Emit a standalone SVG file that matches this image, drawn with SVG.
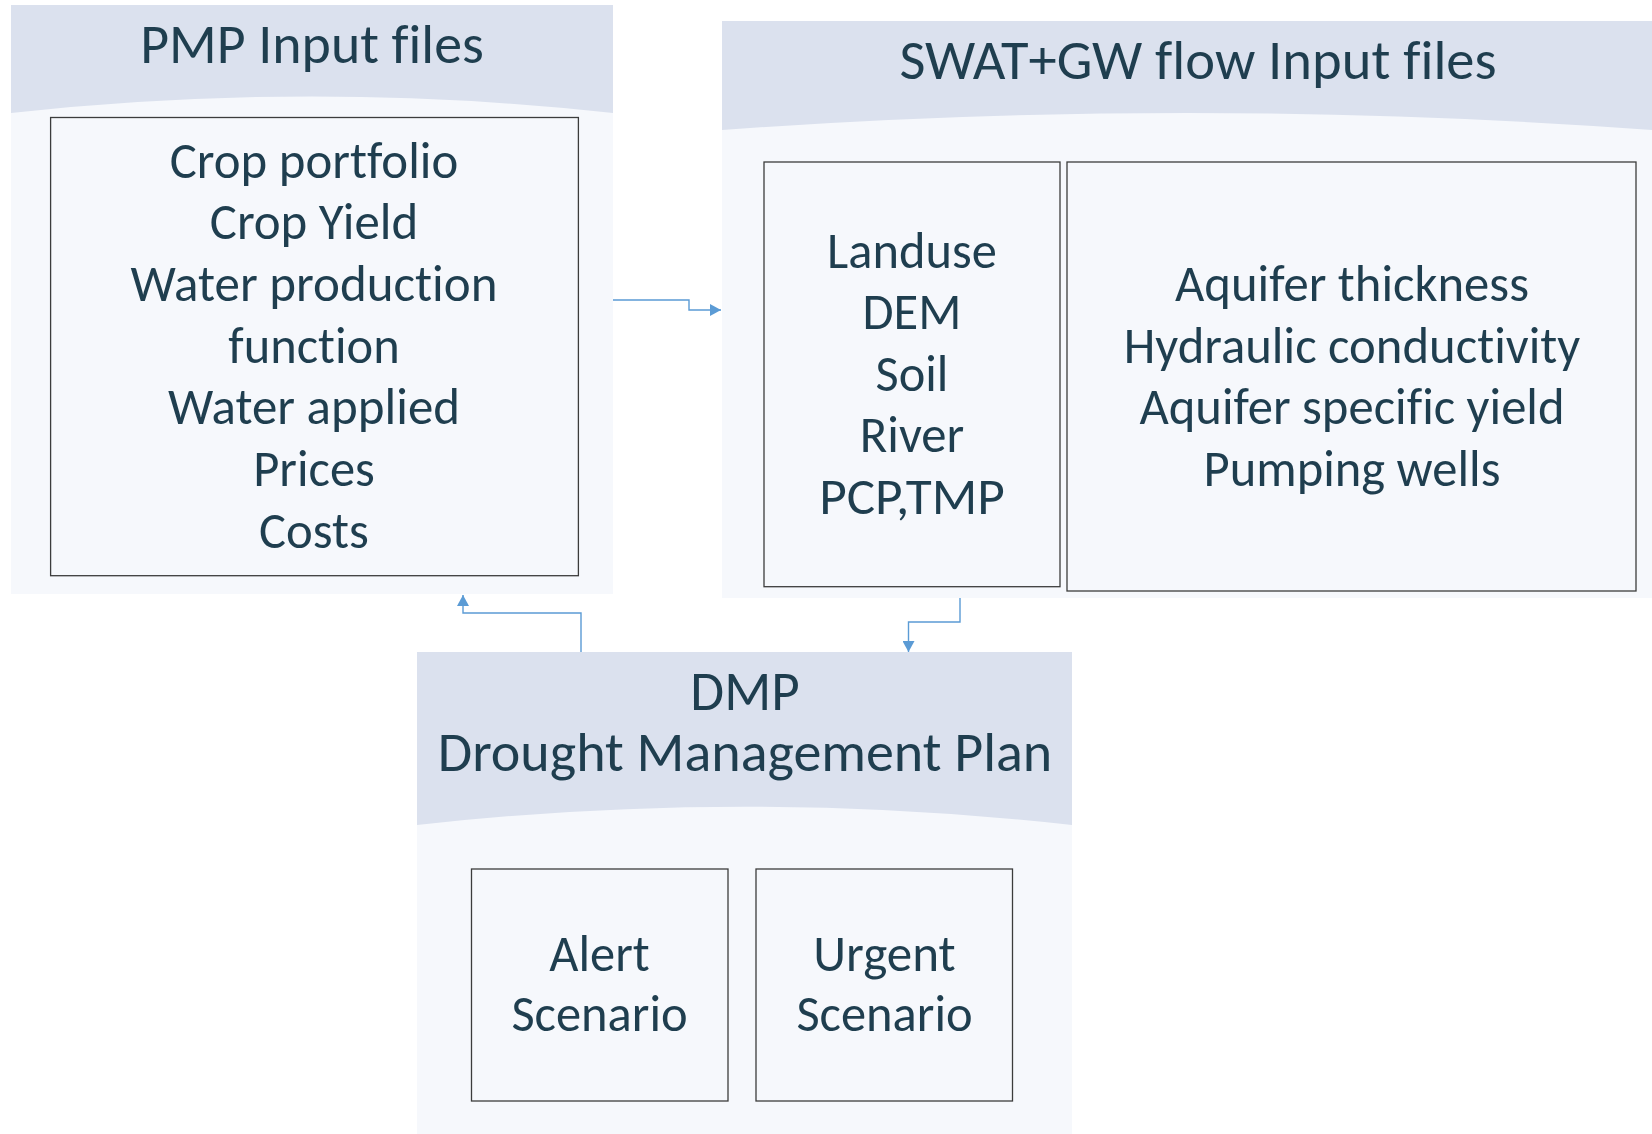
<svg xmlns="http://www.w3.org/2000/svg" width="1652" height="1134" viewBox="0 0 1652 1134">
  <style>
    .panel { fill: #F6F8FC; }
    .band { fill: #DBE1EE; }
    .box { fill: none; stroke: #3C3C3C; stroke-width: 1.3; }
    text { font-family: Carlito, Lato, "Open Sans", sans-serif; fill: #1F3E4F; text-anchor: middle; font-variant-ligatures: none; font-feature-settings: "liga" 0, "clig" 0; }
    .title { font-size: 55.8px; }
    .item { font-size: 50.5px; }
    .link { fill: none; stroke: #5B9BD5; stroke-width: 1.4; }
  </style>
  <defs>
    <marker id="arrow" markerUnits="userSpaceOnUse" markerWidth="12" markerHeight="12" refX="11" refY="6" orient="auto">
      <path d="M0,0 L11,6 L0,12 Z" fill="#5B9BD5"/>
    </marker>
  </defs>

  <rect width="1652" height="1134" fill="#FFFFFF"/>

  <!-- PMP input files -->
  <g id="pmp-inputs">
    <rect class="panel" x="11" y="5" width="602" height="589"/>
    <path class="band" d="M11,5 H613 V113 Q312,80 11,113 Z"/>
    <text class="title" x="312" y="62.5" textLength="343.4" lengthAdjust="spacingAndGlyphs">PMP Input files</text>
    <rect class="box" x="50.6" y="117.5" width="527.8" height="458.2"/>
    <text class="item" x="314" y="177.5" textLength="288.5" lengthAdjust="spacingAndGlyphs">Crop portfolio</text>
    <text class="item" x="314" y="239.2" textLength="208.5" lengthAdjust="spacingAndGlyphs">Crop Yield</text>
    <text class="item" x="314" y="300.9" textLength="367" lengthAdjust="spacingAndGlyphs">Water production</text>
    <text class="item" x="314" y="362.6" textLength="171.4" lengthAdjust="spacingAndGlyphs">function</text>
    <text class="item" x="314" y="424.3" textLength="292.2" lengthAdjust="spacingAndGlyphs">Water applied</text>
    <text class="item" x="314" y="486" textLength="121.6" lengthAdjust="spacingAndGlyphs">Prices</text>
    <text class="item" x="314" y="547.7" textLength="109.9" lengthAdjust="spacingAndGlyphs">Costs</text>
  </g>

  <!-- SWAT + groundwater flow input files -->
  <g id="swat-inputs">
    <rect class="panel" x="722" y="21" width="930" height="577"/>
    <path class="band" d="M722,21 H1652 V130 Q1187,96 722,130 Z"/>
    <text class="title" x="1198" y="79" textLength="597.2" lengthAdjust="spacingAndGlyphs">SWAT+GW flow Input files</text>
    <rect class="box" x="764" y="162" width="296" height="424.7"/>
    <text class="item" x="912" y="267.5" textLength="169.8" lengthAdjust="spacingAndGlyphs">Landuse</text>
    <text class="item" x="912" y="329" textLength="98.9" lengthAdjust="spacingAndGlyphs">DEM</text>
    <text class="item" x="912" y="390.5" textLength="72.9" lengthAdjust="spacingAndGlyphs">Soil</text>
    <text class="item" x="912" y="452" textLength="104.6" lengthAdjust="spacingAndGlyphs">River</text>
    <text class="item" x="912" y="513.5" textLength="185.6" lengthAdjust="spacingAndGlyphs">PCP,TMP</text>
    <rect class="box" x="1067" y="162" width="569" height="429"/>
    <text class="item" x="1352" y="301.2" textLength="353.9" lengthAdjust="spacingAndGlyphs">Aquifer thickness</text>
    <text class="item" x="1352" y="362.7" textLength="456.6" lengthAdjust="spacingAndGlyphs">Hydraulic conductivity</text>
    <text class="item" x="1352" y="424.2" textLength="425.2" lengthAdjust="spacingAndGlyphs">Aquifer specific yield</text>
    <text class="item" x="1352" y="485.7" textLength="296.9" lengthAdjust="spacingAndGlyphs">Pumping wells</text>
  </g>

  <!-- Drought management plan -->
  <g id="dmp">
    <rect class="panel" x="417" y="652" width="655" height="482"/>
    <path class="band" d="M417,652 H1072 V825 Q744.5,788.4 417,825 Z"/>
    <text class="title" x="745" y="709.5" textLength="109.3" lengthAdjust="spacingAndGlyphs">DMP</text>
    <text class="title" x="745" y="770.5" textLength="614.5" lengthAdjust="spacingAndGlyphs">Drought Management Plan</text>
    <g id="alert-scenario">
      <rect class="box" x="471.5" y="869" width="256.5" height="232"/>
      <text class="item" x="599.5" y="970.5" textLength="100.5" lengthAdjust="spacingAndGlyphs">Alert</text>
      <text class="item" x="599.5" y="1031.2" textLength="176.2" lengthAdjust="spacingAndGlyphs">Scenario</text>
    </g>
    <g id="urgent-scenario">
      <rect class="box" x="756" y="869" width="256.5" height="232"/>
      <text class="item" x="884.5" y="970.5" textLength="142.4" lengthAdjust="spacingAndGlyphs">Urgent</text>
      <text class="item" x="884.5" y="1031.2" textLength="176.2" lengthAdjust="spacingAndGlyphs">Scenario</text>
    </g>
  </g>

  <!-- Elbow connectors -->
  <g id="connectors">
    <path class="link" d="M613,300 H689 V310 H721" marker-end="url(#arrow)"/>
    <path class="link" d="M960,598 V622 H908.5 V652" marker-end="url(#arrow)"/>
    <path class="link" d="M581,652 V613 H463 V595" marker-end="url(#arrow)"/>
  </g>
</svg>
